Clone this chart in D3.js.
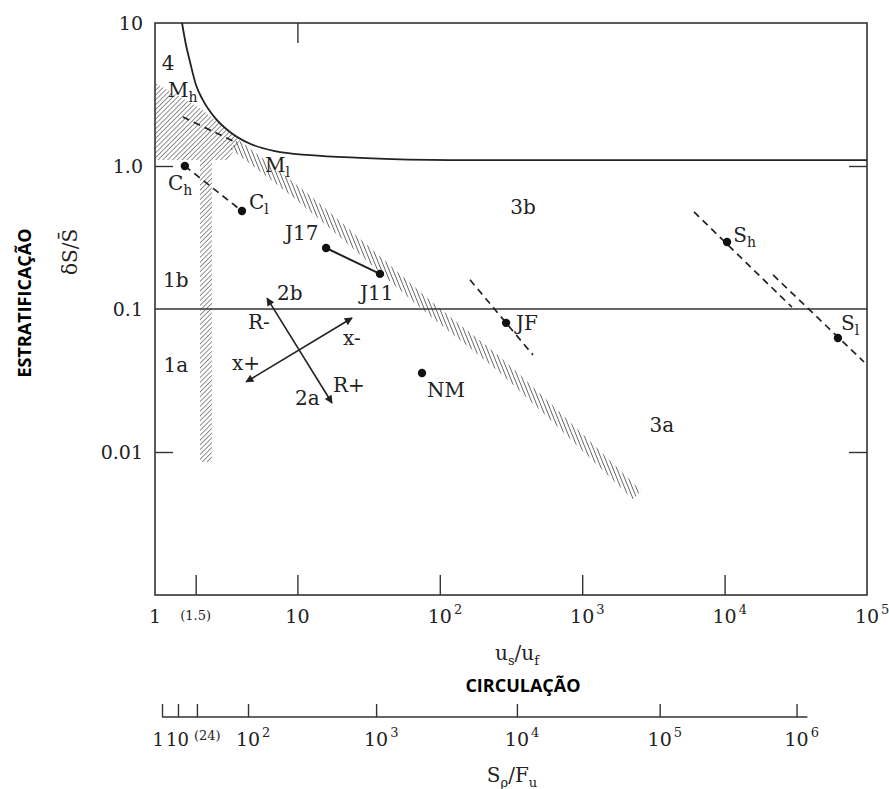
<!DOCTYPE html>
<html>
<head>
<meta charset="utf-8">
<script src="https://cdn.jsdelivr.net/npm/d3@7"></script>
<style>
  body { margin: 0; background: #fff; }
  svg text { font-family: "DejaVu Serif", serif; fill: #222; }
  svg text.bold { font-family: "Open Sans", sans-serif; font-weight: 700; fill: #000; }
</style>
</head>
<body>
<svg id="chart" width="889" height="789"></svg>
<script>
// ---- data (u_s/u_f on x, dS/S on y) ----
const boundaryCurve = [[1.548,10],[1.651,7.02],[1.762,5.34],[1.941,3.68],[2.17,2.89],[2.64,2.17],
  [3.36,1.73],[4.65,1.43],[6.96,1.27],[12.3,1.19],[27.5,1.14],[118,1.10],[100000,1.10]]
const bandLine = [[3.6,1.42],[10.4,0.627],[23.4,0.314],[85.3,0.1016],[265,0.0406],[506,0.0224],[2427,0.005]]
const cornerHatch = [[1,3.81],[2.07,2.54],[3.95,1.52],[3.26,1.10],[1,1.10]]
const stripHatch = [[2.07,1.10],[2.51,1.10],[2.51,0.0085],[2.07,0.0085]]

const dashedSegs = [
  [[1.57,2.20],[3.77,1.45]],      // Mh - Ml
  [[1.62,1.0],[4.08,0.484]],      // Ch - Cl
  [[163,0.16],[451,0.0477]],      // JF
  [[6100,0.477],[29700,0.103]],   // Sh
  [[21900,0.173],[95300,0.0426]]  // Sl
]
const solidSegs = [[[15.9,0.267],[38.0,0.176]]]   // J17 - J11
const dots = [[1.62,1.0],[4.08,0.484],[15.9,0.267],[38.0,0.176],[292,0.08],[75,0.0357],[10400,0.294],[62500,0.0627]]
const arrows = [
  [[6.12,0.119],[17.5,0.022]],   // R- / R+
  [[24.2,0.0865],[4.36,0.0309]]  // x- / x+
]

// labels: text, subscript, x, y, anchor
const labels = [
  ["4","",1.234,5.25,"middle"],
  ["M","h",1.234,3.40,"start"],
  ["M","l",5.92,1.02,"start"],
  ["C","h",1.234,0.76,"start"],
  ["C","l",4.57,0.56,"start"],
  ["J17","",8.18,0.34,"start"],
  ["J11","",27.5,0.129,"start"],
  ["JF","",343,0.0798,"start"],
  ["NM","",81.3,0.0271,"start"],
  ["S","h",11500,0.329,"start"],
  ["S","l",65700,0.0798,"start"],
  ["3b","",384,0.517,"middle"],
  ["3a","",3630,0.0154,"middle"],
  ["1b","",1.40,0.160,"middle"],
  ["1a","",1.40,0.0406,"middle"],
  ["2b","",7.19,0.129,"start"],
  ["R-","",4.50,0.0811,"start"],
  ["x-","",20.9,0.0627,"start"],
  ["x+","",3.47,0.0419,"start"],
  ["2a","",9.62,0.0239,"start"],
  ["R+","",17.8,0.0294,"start"]
]

// axis ticks
const xTickVals = [1.93, 10, 100, 1000, 10000]      // (1.5) tick sits where the source draws it
const xLabelVals = [1, 1.93, 10, 100, 1000, 10000, 100000]
const xLabelBase = ["1","(1.5)","10","10","10","10","10"]
const xLabelExp = ["","","","2","3","4","5"]
const yTickVals = [1, 0.01]
const yLabelVals = [10, 1, 0.1, 0.01]
const yLabelText = ["10","1.0","0.1","0.01"]

// second scale S_rho/F_u and the u_s/u_f value each of its ticks lines up with
const secTicks = [1, 10, 24, 100, 1e3, 1e4, 1e5, 1e6]
const secEquiv = [1.12, 1.45, 1.97, 4.5, 35.7, 348, 3500, 32000]
const secBase = ["1","10","(24)","10","10","10","10","10"]
const secExp = ["","","","2","3","4","5","6"]
const secEnd = 1.2e6

// ---- chart ----
const svg = d3.select("#chart")
const x = d3.scaleLog().domain([1, 1e5]).range([155, 867])
const y = d3.scaleLog().domain([0.001, 10]).range([595, 23])
const xs = d3.scaleLog().domain(secTicks).range(secEquiv.map(d => x(d)))

const defs = svg.append("defs")
defs.append("pattern").attr("id","hatch45").attr("patternUnits","userSpaceOnUse")
  .attr("width",3.4).attr("height",3.4).attr("patternTransform","rotate(45)")
  .append("line").attr("x1",0).attr("y1",0).attr("x2",0).attr("y2",3.4)
  .attr("stroke","#555").attr("stroke-width",1.3)
defs.append("pattern").attr("id","hatchBand").attr("patternUnits","userSpaceOnUse")
  .attr("width",3.6).attr("height",3.6).attr("patternTransform","rotate(-22)")
  .append("line").attr("x1",0).attr("y1",0).attr("x2",0).attr("y2",3.6)
  .attr("stroke","#444").attr("stroke-width",1.5)
defs.append("marker").attr("id","arrow").attr("viewBox","0 0 10 10")
  .attr("refX",9).attr("refY",5).attr("markerWidth",11).attr("markerHeight",8)
  .attr("markerUnits","userSpaceOnUse").attr("orient","auto-start-reverse")
  .append("path").attr("d","M0,0L10,5L0,10z").attr("fill","#222")

const line = d3.line().x(d => x(d[0])).y(d => y(d[1]))

// hatched regions
svg.append("path").attr("d", line(cornerHatch) + "Z").attr("fill","url(#hatch45)")
svg.append("path").attr("d", line(stripHatch) + "Z").attr("fill","url(#hatch45)")
svg.append("path").attr("d", line.curve(d3.curveCatmullRom)(bandLine))
  .attr("fill","none").attr("stroke","url(#hatchBand)").attr("stroke-width",12)
line.curve(d3.curveLinear)

// frame
svg.append("rect").attr("x",x(1)).attr("y",y(10))
  .attr("width",x(1e5)-x(1)).attr("height",y(0.001)-y(10))
  .attr("fill","none").attr("stroke","#333").attr("stroke-width",1.6)

// axes (inner ticks)
const axG = svg.append("g").attr("color","#333")
axG.append("g").attr("transform",`translate(0,${y(0.001)})`)
  .call(d3.axisBottom(x).tickValues(xTickVals).tickSizeInner(-20).tickSizeOuter(0).tickFormat(""))
axG.append("g").attr("transform",`translate(0,${y(10)})`)
  .call(d3.axisTop(x).tickValues([10]).tickSizeInner(-20).tickSizeOuter(0).tickFormat(""))
axG.append("g").attr("transform",`translate(${x(1)},0)`)
  .call(d3.axisLeft(y).tickValues(yTickVals).tickSizeInner(-18).tickSizeOuter(0).tickFormat(""))
axG.append("g").attr("transform",`translate(${x(1e5)},0)`)
  .call(d3.axisRight(y).tickValues(yTickVals).tickSizeInner(-18).tickSizeOuter(0).tickFormat(""))
axG.selectAll(".domain").remove()
axG.selectAll(".tick line").attr("stroke-width",1.4)

// 0.1 line and boundary curve
svg.append("path").attr("d", line([[1,0.1],[1e5,0.1]])).attr("stroke","#333").attr("stroke-width",1.4)
svg.append("path").attr("d", line.curve(d3.curveMonotoneX)(boundaryCurve))
  .attr("fill","none").attr("stroke","#222").attr("stroke-width",1.8)
line.curve(d3.curveLinear)

// estuary lines
svg.selectAll(".dash").data(dashedSegs).join("path").attr("class","dash")
  .attr("d", line).attr("stroke","#222").attr("stroke-width",1.7).attr("stroke-dasharray","7,5")
svg.selectAll(".solid").data(solidSegs).join("path").attr("class","solid")
  .attr("d", line).attr("stroke","#222").attr("stroke-width",2)
svg.selectAll(".arr").data(arrows).join("path").attr("class","arr")
  .attr("d", line).attr("stroke","#222").attr("stroke-width",1.6)
  .attr("marker-start","url(#arrow)").attr("marker-end","url(#arrow)")
svg.selectAll(".dot").data(dots).join("circle").attr("class","dot")
  .attr("cx", d => x(d[0])).attr("cy", d => y(d[1])).attr("r",4.2).attr("fill","#111")

// annotations
labels.forEach(([t, sub, lx, ly, anchor]) => {
  const txt = svg.append("text").attr("x", x(lx)).attr("y", y(ly)).attr("dy","0.35em")
    .attr("text-anchor", anchor).attr("font-size",20)
  txt.append("tspan").text(t)
  if (sub) txt.append("tspan").attr("dy",5).attr("font-size",14).text(sub)
})

// tick labels
function powLabel(px, py, base, exp, size, anchor) {
  const t = svg.append("text").attr("x", px).attr("y", py).attr("text-anchor", anchor || "middle")
    .attr("font-size", size).text(base)
  if (exp) {
    const w = t.node().getComputedTextLength()
    svg.append("text").attr("x", px + w/2 + 2).attr("y", py - 9).attr("font-size", 13).text(exp)
  }
  return t
}
xLabelVals.forEach((v, i) => {
  const small = xLabelBase[i].startsWith("(")
  powLabel(x(v), small ? 620 : 623, xLabelBase[i], xLabelExp[i], small ? 13 : 19)
})
yLabelVals.forEach((v, i) => {
  svg.append("text").attr("x", x(1) - 12).attr("y", y(v)).attr("dy","0.35em")
    .attr("text-anchor","end").attr("font-size",19).text(yLabelText[i])
})

// second scale
const secY = 717
svg.append("line").attr("x1", xs(1)).attr("x2", xs(secEnd)).attr("y1", secY).attr("y2", secY)
  .attr("stroke","#333").attr("stroke-width",1.5)
svg.append("g").attr("transform",`translate(0,${secY})`).attr("color","#333")
  .call(d3.axisTop(xs).tickValues(secTicks).tickSizeInner(13).tickSizeOuter(0).tickFormat(""))
  .call(g => g.select(".domain").remove())
  .call(g => g.selectAll(".tick line").attr("stroke-width",1.4))
secTicks.forEach((v, i) => {
  if (secBase[i].startsWith("(")) {
    svg.append("text").attr("x", xs(v) - 3).attr("y", 740).attr("font-size",13).text(secBase[i])
  } else if (i === 0) {
    // "1" and "10" sit so close that they read as "110"
    powLabel(xs(v) + 2, 746, secBase[i], "", 18, "end")
  } else if (i === 1) {
    powLabel(xs(v) - 12, 746, secBase[i], "", 18, "start")
  } else {
    powLabel(xs(v), 746, secBase[i], secExp[i], 19)
  }
})

// axis titles
const us = svg.append("text").attr("x",517).attr("y",660).attr("text-anchor","middle").attr("font-size",20)
us.append("tspan").text("u")
us.append("tspan").attr("dy",5).attr("font-size",13).text("s")
us.append("tspan").attr("dy",-5).text("/u")
us.append("tspan").attr("dy",5).attr("font-size",13).text("f")
svg.append("text").attr("class","bold").attr("x",523).attr("y",692).attr("text-anchor","middle")
  .attr("font-size",18).text("CIRCULAÇÃO")
const sf = svg.append("text").attr("x",512).attr("y",782).attr("text-anchor","middle").attr("font-size",20)
sf.append("tspan").text("S")
sf.append("tspan").attr("dy",5).attr("font-size",13).text("ρ")
sf.append("tspan").attr("dy",-5).text("/F")
sf.append("tspan").attr("dy",5).attr("font-size",13).text("u")

svg.append("text").attr("transform","translate(70,252) rotate(-90)").attr("text-anchor","middle")
  .attr("dy","0.35em").attr("font-size",20).text("δS/S\u0304")
svg.append("text").attr("class","bold").attr("transform","translate(25,303) rotate(-90)")
  .attr("text-anchor","middle").attr("dy","0.35em").attr("font-size",18).text("ESTRATIFICAÇÃO")
</script>
</body>
</html>
